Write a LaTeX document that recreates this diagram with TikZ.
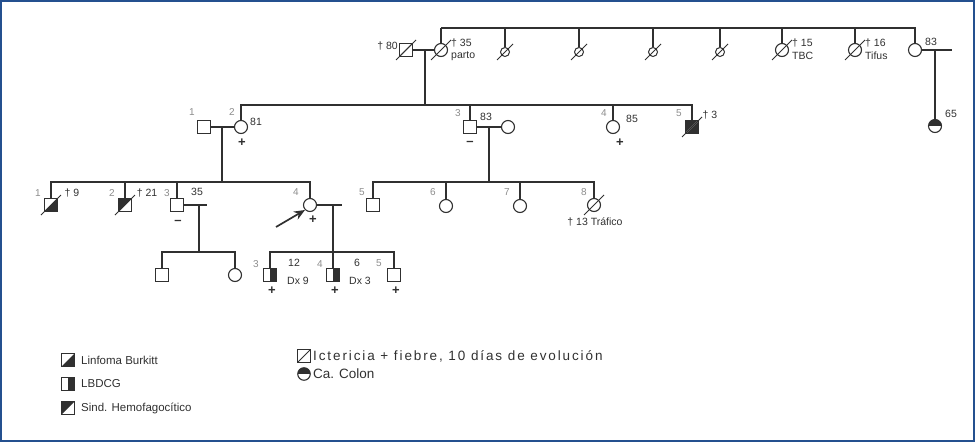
\documentclass[tikz,border=0pt]{standalone}
\usepackage{fontspec}
\setmainfont{Liberation Sans}
\newfontfamily\widefont[LetterSpace=14]{Liberation Sans}
\usetikzlibrary{arrows.meta,calc}
\definecolor{frameblue}{HTML}{24508F}
\definecolor{numgray}{HTML}{8C8C8C}
\definecolor{ink}{HTML}{303030}
\begin{document}
\begin{tikzpicture}[x=1pt,y=-1pt,
  line/.style={draw=ink,line width=1.1pt},
  male/.style={rectangle,draw=ink,line width=1.1pt,minimum size=13pt,inner sep=0pt,fill=white},
  female/.style={circle,draw=ink,line width=1.1pt,minimum size=13pt,inner sep=0pt,fill=white},
  smallsym/.style={circle,draw=ink,line width=1pt,minimum size=9pt,inner sep=0pt,fill=white},
  legsq/.style={rectangle,draw=ink,line width=1.1pt,minimum size=12.5pt,inner sep=0pt,fill=white},
  legci/.style={circle,draw=ink,line width=1.1pt,minimum size=12.5pt,inner sep=0pt,fill=white},
  burkitt/.style={path picture={\fill[ink] (path picture bounding box.south west) -- (path picture bounding box.north east) -- (path picture bounding box.south east) -- cycle;}},
  hemofag/.style={path picture={\fill[ink] (path picture bounding box.south west) -- (path picture bounding box.north east) -- (path picture bounding box.north west) -- cycle;}},
  lbdcg/.style={path picture={\fill[ink] (path picture bounding box.south) rectangle (path picture bounding box.north east);}},
  ictericia/.style={path picture={\draw[ink,line width=0.9pt] (path picture bounding box.south west) -- (path picture bounding box.north east);}},
  colon/.style={path picture={\fill[ink] (path picture bounding box.west) rectangle (path picture bounding box.north east);}},
  bothdis/.style={fill=ink,path picture={\draw[white,line width=0.9pt] (path picture bounding box.south west) -- (path picture bounding box.north east);}},
  slash/.style={draw=ink,line width=1pt},
  num/.style={font=\fontsize{10}{12}\selectfont,text=numgray,inner sep=0pt},
  lab/.style={font=\fontsize{10.5}{12}\selectfont,text=ink,inner sep=0pt},
  pm/.style={font=\fontsize{13}{13}\selectfont\bfseries,text=ink,inner sep=0pt},
  legl/.style={font=\fontsize{11.5}{13}\selectfont,text=ink,inner sep=0pt,anchor=west},
  legr/.style={font=\fontsize{13.5}{15}\selectfont,text=ink,inner sep=0pt,anchor=west}
]
\useasboundingbox (0,0) rectangle (975,442);
\draw[frameblue,line width=2pt] (1,1) rectangle (974,441);

% ---------------- Generation I
\node[male,ictericia] (I1) at (406,50) {};
\node[female] (I2) at (441,50) {};
\node[smallsym] (I3) at (505,52) {};
\node[smallsym] (I4) at (579,52) {};
\node[smallsym] (I5) at (653,52) {};
\node[smallsym] (I6) at (720,52) {};
\node[female] (I7) at (782,50) {};
\node[female] (I8) at (855,50) {};
\node[female] (I9) at (915,50) {};
\coordinate (topbar) at (441,28);
\coordinate (I9stub) at (952,50);
\coordinate (I9m) at (935,50);
\coordinate (m1) at (425,50);

\draw[line] (I1) -- (I2);
\draw[line] (topbar) -| (I9.north);
\foreach \n in {I2,I3,I4,I5,I6,I7,I8} \draw[line] (\n.north) -- (\n.north |- topbar);
\draw[line] (I9) -- (I9stub);

\foreach \n in {I1,I2,I7,I8} \draw[slash] ([shift={(-10pt,-10pt)}]\n.center) -- ([shift={(10pt,10pt)}]\n.center);
\foreach \n in {I3,I4,I5,I6} \draw[slash] ([shift={(-8pt,-8pt)}]\n.center) -- ([shift={(8pt,8pt)}]\n.center);

\node[lab,anchor=east] (tI1) at (398,46) {† 80};
\node[lab,anchor=west] (tI2a) at (451,43) {† 35};
\node[lab,anchor=west] (tI2b) at (451,56) {parto};
\node[lab,anchor=west] (tI7a) at (792,43) {† 15};
\node[lab,anchor=west] (tI7b) at (792,56) {TBC};
\node[lab,anchor=west] (tI8a) at (865,43) {† 16};
\node[lab,anchor=west] (tI8b) at (865,56) {Tifus};
\node[lab,anchor=west] (tI9) at (925,42) {83};

% ---------------- Generation II
\node[male] (II1) at (204,127) {};
\node[female] (II2) at (241,127) {};
\node[male] (II3) at (470,127) {};
\node[female] (II3s) at (508,127) {};
\node[female] (II4) at (613,127) {};
\node[male,bothdis] (II5) at (692,127) {};
\node[female,colon] (II6) at (935,126) {};
\coordinate (bar2) at (241,105);

\draw[line] (m1) -- (m1 |- bar2);
\draw[line] (II2.north) -- (II2.north |- bar2) -| (II5.north);
\foreach \n in {II3,II4} \draw[line] (\n.north) -- (\n.north |- bar2);
\draw[line] (II1) -- (II2);
\draw[line] (II3) -- (II3s);
\draw[line] (I9m) -- (II6.north);
\draw[slash] ([shift={(-10pt,-10pt)}]II5.center) -- ([shift={(10pt,10pt)}]II5.center);

\node[num] (nII1) at (192,112) {1};
\node[num] (nII2) at (232,112) {2};
\node[lab] (tII2) at (256,122) {81};
\node[pm] (pII2) at (242,143) {+};
\node[num] (nII3) at (458,113) {3};
\node[lab] (tII3) at (486,117) {83};
\node[pm] (mII3) at (470,143) {–};
\node[num] (nII4) at (604,113) {4};
\node[lab] (tII4) at (632,119) {85};
\node[pm] (pII4) at (620,143) {+};
\node[num] (nII5) at (679,113) {5};
\node[lab] (tII5) at (710,115) {† 3};
\node[lab,anchor=west] (tII6) at (945,114) {65};

% ---------------- Generation III
\node[male,burkitt] (III1) at (51,205) {};
\node[male,hemofag] (III2) at (125,205) {};
\node[male] (III3) at (177,205) {};
\node[female] (III4) at (310,205) {};
\node[male] (III5) at (373,205) {};
\node[female] (III6) at (446,206) {};
\node[female] (III7) at (520,206) {};
\node[female] (III8) at (594,205) {};
\coordinate (bar3a) at (51,182);
\coordinate (bar3b) at (373,182);
\coordinate (m2) at (222,127);
\coordinate (m3) at (489,127);
\coordinate (III3stub) at (207,205);
\coordinate (III3m) at (199,205);
\coordinate (III4stub) at (342,205);
\coordinate (III4m) at (333,205);

\draw[line] (m2) -- (m2 |- bar3a);
\draw[line] (m3) -- (m3 |- bar3b);
\draw[line] (III1.north) -- (III1.north |- bar3a) -| (III4.north);
\foreach \n in {III2,III3} \draw[line] (\n.north) -- (\n.north |- bar3a);
\draw[line] (III5.north) -- (III5.north |- bar3b) -| (III8.north);
\foreach \n in {III6,III7} \draw[line] (\n.north) -- (\n.north |- bar3b);
\draw[line] (III3) -- (III3stub);
\draw[line] (III4) -- (III4stub);
\foreach \n in {III1,III2,III8} \draw[slash] ([shift={(-10pt,-10pt)}]\n.center) -- ([shift={(10pt,10pt)}]\n.center);

\node[num] (nIII1) at (38,193) {1};
\node[lab] (tIII1) at (72,193) {† 9};
\node[num] (nIII2) at (112,193) {2};
\node[lab] (tIII2) at (147,193) {† 21};
\node[num] (nIII3) at (167,193) {3};
\node[lab] (tIII3) at (197,192) {35};
\node[pm] (mIII3) at (178,222) {–};
\node[num] (nIII4) at (296,192) {4};
\node[pm] (pIII4) at (313,220) {+};
\node[num] (nIII5) at (362,192) {5};
\node[num] (nIII6) at (433,192) {6};
\node[num] (nIII7) at (507,192) {7};
\node[num] (nIII8) at (584,192) {8};
\node[lab] (tIII8) at (595,222) {† 13 Tráfico};
\coordinate (arrtail) at (276,227);
\draw[draw=ink,line width=1.7pt,-{Stealth[length=11pt,width=9pt]}] (arrtail) -- (III4.south west);

% ---------------- Generation IV
\node[male] (IVa) at (162,275) {};
\node[female] (IVb) at (235,275) {};
\node[male,lbdcg] (IV3) at (270,275) {};
\node[male,lbdcg] (IV4) at (333,275) {};
\node[male] (IV5) at (394,275) {};
\coordinate (bar4a) at (162,252);
\coordinate (bar4b) at (270,252);

\draw[line] (III3m) -- (III3m |- bar4a);
\draw[line] (IVa.north) -- (IVa.north |- bar4a) -| (IVb.north);
\draw[line] (III4m) -- (IV4.north);
\draw[line] (IV3.north) -- (IV3.north |- bar4b) -| (IV5.north);

\node[num] (nIV3) at (256,264) {3};
\node[lab] (tIV3a) at (294,263) {12};
\node[lab] (tIV3b) at (298,281) {Dx 9};
\node[pm] (pIV3) at (272,291) {+};
\node[num] (nIV4) at (320,264) {4};
\node[lab] (tIV4a) at (357,263) {6};
\node[lab] (tIV4b) at (360,281) {Dx 3};
\node[pm] (pIV4) at (335,291) {+};
\node[num] (nIV5) at (379,263) {5};
\node[pm] (pIV5) at (396,291) {+};

% ---------------- Legend
\node[legsq,burkitt] (L1) at (68,360) {};
\node[legl] (tL1) at (81,360) {Linfoma Burkitt};
\node[legsq,lbdcg] (L2) at (68,384) {};
\node[legl] (tL2) at (81,384) {LBDCG};
\node[legsq,hemofag] (L3) at (68,408) {};
\node[legl] (tL3) at (81,408) {Sind. Hemofagocítico};
\node[legsq,ictericia] (L4) at (304,356) {};
\node[legr,font=\widefont\fontsize{13.5}{15}\selectfont] (tL4) at (313,356) {Ictericia + fiebre, 10 días de evolución};
\node[legci,colon] (L5) at (304,374) {};
\node[legr] (tL5) at (313,374) {Ca. Colon};
\end{tikzpicture}
\end{document}
